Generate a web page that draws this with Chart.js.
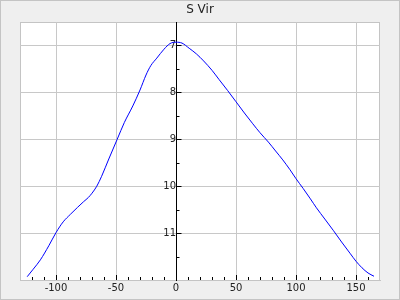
<!DOCTYPE html>
<html>
<head>
<meta charset="utf-8">
<script src="https://cdn.jsdelivr.net/npm/chart.js@4/dist/chart.umd.min.js"></script>
<style>
  body { margin: 0; background: #efefef; }
  canvas { display: block; }
</style>
</head>
<body>
<canvas id="chart" width="400" height="300"></canvas>
<script>
// S Vir light curve, phase in days vs magnitude
const phaseDays = [-124, -119, -113, -106, -100, -94, -88, -82, -77, -73, -70, -66, -62, -56, -49, -43, -36, -30, -25, -21, -16, -10, -5, 0,
    5, 11, 17, 23, 30, 36, 43, 50, 57, 64, 70, 77, 83, 89, 95, 100, 106, 112, 117, 124, 131, 138, 145, 150, 155, 160, 165];
const magnitude = [11.93, 11.77, 11.57, 11.27, 10.99, 10.76, 10.6, 10.45, 10.33, 10.24, 10.15, 10.0, 9.79, 9.42, 9.0, 8.64, 8.29, 7.95, 7.63, 7.43, 7.27, 7.08, 6.96, 6.93,
    6.95, 7.06, 7.18, 7.33, 7.53, 7.73, 7.96, 8.2, 8.44, 8.67, 8.86, 9.06, 9.25, 9.44, 9.65, 9.84, 10.05, 10.27, 10.46, 10.7, 10.94, 11.19, 11.43, 11.6, 11.74, 11.85, 11.92];
const xTickValues = [-100, -50, 0, 50, 100, 150];
const yTickValues = [7, 8, 9, 10, 11];

const FONT = "'DejaVu Sans', sans-serif";

// background, frame and the little tick marks on both axes
const frame = {
    id: "frame",
    beforeDraw(chart) {
        const ctx = chart.ctx;
        const a = chart.chartArea;
        ctx.save();
        ctx.fillStyle = "#efefef";
        ctx.fillRect(0, 0, chart.width, chart.height);
        ctx.strokeStyle = "#c4c4c4";
        ctx.lineWidth = 1;
        ctx.strokeRect(0.5, 0.5, chart.width - 1, chart.height - 1);
        ctx.fillStyle = "#ffffff";
        ctx.fillRect(a.left, a.top, a.right - a.left, a.bottom - a.top);
        ctx.strokeStyle = "#c4c4c4";
        ctx.strokeRect(Math.round(a.left) + 0.5, Math.round(a.top) + 0.5,
            Math.round(a.right - a.left) - 1, Math.round(a.bottom - a.top));
        ctx.restore();
    },
    afterDraw(chart) {
        const ctx = chart.ctx;
        const xs = chart.scales.x, ys = chart.scales.y;
        const a = chart.chartArea;
        const x0 = Math.round(xs.getPixelForValue(0)) + 0.5;
        const yb = Math.round(a.bottom);
        ctx.save();
        ctx.strokeStyle = "#000";
        ctx.lineWidth = 1;
        ctx.beginPath();
        for (let v = -120; v <= 160; v += 10) {
            const px = Math.round(xs.getPixelForValue(v)) + 0.5;
            const len = v % 50 === 0 ? 5 : 3;
            ctx.moveTo(px, yb);
            ctx.lineTo(px, yb - len);
        }
        for (let m = 7; m <= 11.5; m += 0.5) {
            const py = Math.round(ys.getPixelForValue(m)) + 0.5;
            const len = m % 1 === 0 ? 5 : 3;
            ctx.moveTo(x0, py);
            ctx.lineTo(x0 + len, py);
        }
        ctx.stroke();
        ctx.restore();
    }
};

new Chart(document.getElementById("chart"), {
    type: "line",
    data: {
        labels: phaseDays,
        datasets: [{
            label: "S Vir",
            data: phaseDays.map((d, i) => ({ x: d, y: magnitude[i] })),
            borderColor: "#0000ff",
            borderWidth: 1,
            pointRadius: 0,
            fill: false,
            cubicInterpolationMode: "monotone"
        }]
    },
    options: {
        responsive: false,
        animation: false,
        layout: { padding: { left: 20, right: 20, top: 0, bottom: 4 } },
        plugins: {
            legend: { display: false },
            tooltip: { enabled: false },
            title: {
                display: true,
                text: "S Vir",
                color: "#222",
                font: { family: FONT, size: 12, weight: "normal" },
                padding: { top: 3, bottom: 4.6 }
            }
        },
        scales: {
            x: {
                type: "linear",
                min: -130,
                max: 170,
                afterBuildTicks: (s) => { s.ticks = xTickValues.map(v => ({ value: v })); },
                grid: { color: "#c8c8c8", drawTicks: false },
                border: { color: "#c4c4c4" },
                ticks: { color: "#222", padding: 2, font: { family: FONT, size: 10 } }
            },
            y: {
                type: "linear",
                reverse: true,
                min: 6.5,
                max: 12,
                position: { x: 0 },
                afterBuildTicks: (s) => { s.ticks = yTickValues.map(v => ({ value: v })); },
                grid: { color: "#c8c8c8", drawTicks: false },
                border: { color: "#000" },
                ticks: { color: "#222", padding: 6, font: { family: FONT, size: 10 } }
            }
        }
    },
    plugins: [frame]
});
</script>
</body>
</html>
